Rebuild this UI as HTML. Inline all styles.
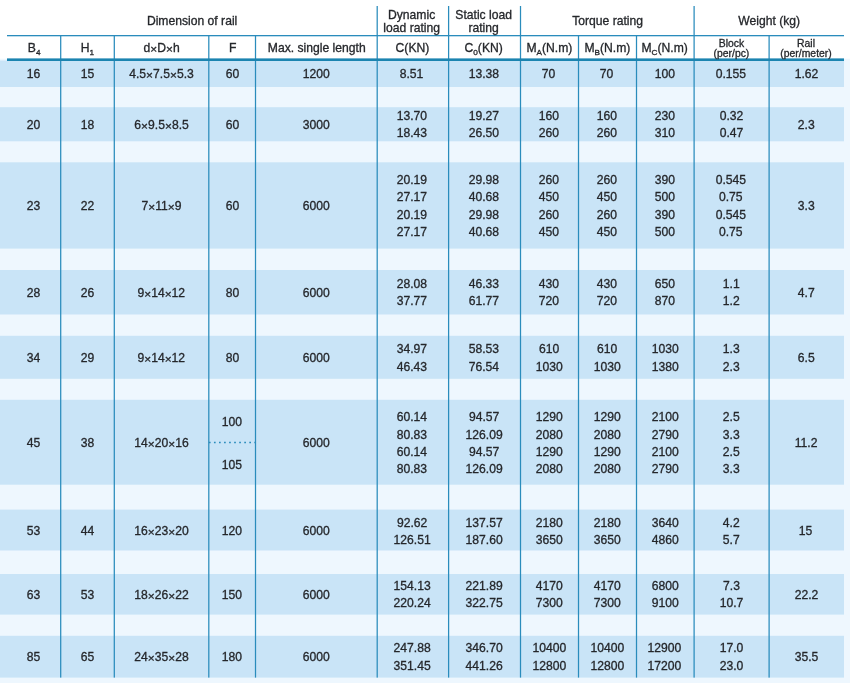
<!DOCTYPE html>
<html><head><meta charset="utf-8"><title>Rail dimensions</title>
<style>
html,body{margin:0;padding:0;}
body{width:850px;height:683px;position:relative;overflow:hidden;background:#fff;font-family:"Liberation Sans",Arial,Helvetica,sans-serif;font-size:11.85px;color:#25272b;-webkit-text-stroke:0.3px #25272b;}
.a{position:absolute;}
svg{left:0;top:0;}
.c{display:flex;align-items:center;justify-content:center;text-align:center;line-height:17.35px;white-space:nowrap;}
.c>span{display:inline-block;transform:scaleX(1.025);}
.sm{font-size:10.15px;line-height:9.1px;}
.h2{line-height:12.8px;}
i{font-style:normal;position:relative;}
b{font-weight:normal;position:relative;top:1px;font-size:11.6px;line-height:0;}
sub{font-size:8px;vertical-align:baseline;position:relative;top:3px;line-height:0;}
</style></head><body>

<svg class="a" width="850" height="683" viewBox="0 0 850 683">
<rect x="0" y="58.7" width="850" height="625" fill="#eef7fe"/>
<rect x="0" y="60.5" width="844" height="26.5" fill="#c9e4f7"/>
<rect x="0" y="107.2" width="844" height="34.1" fill="#c9e4f7"/>
<rect x="0" y="162.3" width="844" height="86.3" fill="#c9e4f7"/>
<rect x="0" y="270.0" width="844" height="44.5" fill="#c9e4f7"/>
<rect x="0" y="335.8" width="844" height="43.0" fill="#c9e4f7"/>
<rect x="0" y="399.8" width="844" height="84.9" fill="#c9e4f7"/>
<rect x="0" y="509.6" width="844" height="40.9" fill="#c9e4f7"/>
<rect x="0" y="574.0" width="844" height="40.6" fill="#c9e4f7"/>
<rect x="0" y="635.8" width="844" height="41.8" fill="#c9e4f7"/>
<rect x="60.08" y="35" width="1.25" height="642.6" fill="#2a8cbc"/>
<rect x="113.67" y="35" width="1.25" height="642.6" fill="#2a8cbc"/>
<rect x="208.18" y="35" width="1.25" height="642.6" fill="#2a8cbc"/>
<rect x="254.88" y="35" width="1.25" height="642.6" fill="#2a8cbc"/>
<rect x="376.57" y="6" width="1.25" height="671.6" fill="#2a8cbc"/>
<rect x="447.98" y="6" width="1.25" height="671.6" fill="#2a8cbc"/>
<rect x="519.88" y="6" width="1.25" height="671.6" fill="#2a8cbc"/>
<rect x="577.88" y="35" width="1.25" height="642.6" fill="#2a8cbc"/>
<rect x="635.88" y="35" width="1.25" height="642.6" fill="#2a8cbc"/>
<rect x="693.48" y="6" width="1.25" height="671.6" fill="#2a8cbc"/>
<rect x="768.48" y="35" width="1.25" height="642.6" fill="#2a8cbc"/>
<rect x="7" y="35.0" width="837" height="1.3" fill="#2a8cbc"/>
<rect x="7" y="58.4" width="837" height="2.6" fill="#1b84b0"/>
<line x1="208.9" y1="442.6" x2="255.5" y2="442.6" stroke="#2a8cbc" stroke-width="1.5" stroke-dasharray="1.7 3.35"/>
</svg>
<div class="a c " style="left:7.0px;top:8.0px;width:370.2px;height:28.0px"><span>Dimension of rail</span></div>
<div class="a c h2" style="left:376.3px;top:8.2px;width:71.4px;height:28.0px"><span>Dynamic<br>load rating</span></div>
<div class="a c h2" style="left:448.1px;top:8.2px;width:71.9px;height:28.0px"><span>Static load<br>rating</span></div>
<div class="a c " style="left:521.0px;top:8.0px;width:173.6px;height:28.0px"><span>Torque rating</span></div>
<div class="a c " style="left:694.6px;top:8.0px;width:149.9px;height:28.0px"><span>Weight (kg)</span></div>
<div class="a c " style="left:7.0px;top:37.0px;width:53.7px;height:23.0px"><span>B<sub>4</sub></span></div>
<div class="a c " style="left:60.7px;top:37.0px;width:53.6px;height:23.0px"><span>H<sub>1</sub></span></div>
<div class="a c " style="left:114.3px;top:37.0px;width:94.5px;height:23.0px"><span>d<b>×</b>D<b>×</b>h</span></div>
<div class="a c " style="left:208.8px;top:37.0px;width:46.7px;height:23.0px"><span>F</span></div>
<div class="a c " style="left:255.5px;top:37.0px;width:121.7px;height:23.0px"><span>Max. single length</span></div>
<div class="a c " style="left:376.3px;top:37.0px;width:71.4px;height:23.0px"><span>C(KN)</span></div>
<div class="a c " style="left:448.1px;top:37.0px;width:71.9px;height:23.0px"><span>C<sub>0</sub>(KN)</span></div>
<div class="a c " style="left:520.0px;top:37.0px;width:58.0px;height:23.0px"><span>M<sub>A</sub>(N.m)</span></div>
<div class="a c " style="left:578.0px;top:37.0px;width:58.0px;height:23.0px"><span>M<sub>B</sub>(N.m)</span></div>
<div class="a c " style="left:636.0px;top:37.0px;width:57.6px;height:23.0px"><span>M<sub>C</sub>(N.m)</span></div>
<div class="a c sm" style="left:693.6px;top:37.0px;width:75.0px;height:23.0px"><span>Block<br>(per/pc)</span></div>
<div class="a c sm" style="left:768.6px;top:37.0px;width:74.9px;height:23.0px"><span>Rail<br>(per/meter)</span></div>
<div class="a c " style="left:7.0px;top:61.5px;width:53.7px;height:26.5px"><span>16</span></div>
<div class="a c " style="left:60.7px;top:61.5px;width:53.6px;height:26.5px"><span>15</span></div>
<div class="a c " style="left:114.3px;top:61.5px;width:94.5px;height:26.5px"><span>4.5<b>×</b>7.5<b>×</b>5.3</span></div>
<div class="a c " style="left:208.8px;top:61.5px;width:46.7px;height:26.5px"><span>60</span></div>
<div class="a c " style="left:255.5px;top:61.5px;width:121.7px;height:26.5px"><span>1200</span></div>
<div class="a c " style="left:376.3px;top:61.5px;width:71.4px;height:26.5px"><span>8.51</span></div>
<div class="a c " style="left:448.1px;top:61.5px;width:71.9px;height:26.5px"><span>13.38</span></div>
<div class="a c " style="left:520.0px;top:61.5px;width:58.0px;height:26.5px"><span>70</span></div>
<div class="a c " style="left:578.0px;top:61.5px;width:58.0px;height:26.5px"><span>70</span></div>
<div class="a c " style="left:636.0px;top:61.5px;width:57.6px;height:26.5px"><span>100</span></div>
<div class="a c " style="left:693.6px;top:61.5px;width:75.0px;height:26.5px"><span>0.155</span></div>
<div class="a c " style="left:768.6px;top:61.5px;width:74.9px;height:26.5px"><span>1.62</span></div>
<div class="a c " style="left:7.0px;top:108.2px;width:53.7px;height:34.1px"><span>20</span></div>
<div class="a c " style="left:60.7px;top:108.2px;width:53.6px;height:34.1px"><span>18</span></div>
<div class="a c " style="left:114.3px;top:108.2px;width:94.5px;height:34.1px"><span>6<b>×</b>9.5<b>×</b>8.5</span></div>
<div class="a c " style="left:208.8px;top:108.2px;width:46.7px;height:34.1px"><span>60</span></div>
<div class="a c " style="left:255.5px;top:108.2px;width:121.7px;height:34.1px"><span>3000</span></div>
<div class="a c " style="left:376.3px;top:108.2px;width:71.4px;height:34.1px"><span>13.70<br>18.43</span></div>
<div class="a c " style="left:448.1px;top:108.2px;width:71.9px;height:34.1px"><span>19.27<br>26.50</span></div>
<div class="a c " style="left:520.0px;top:108.2px;width:58.0px;height:34.1px"><span>160<br>260</span></div>
<div class="a c " style="left:578.0px;top:108.2px;width:58.0px;height:34.1px"><span>160<br>260</span></div>
<div class="a c " style="left:636.0px;top:108.2px;width:57.6px;height:34.1px"><span>230<br>310</span></div>
<div class="a c " style="left:693.6px;top:108.2px;width:75.0px;height:34.1px"><span>0.32<br>0.47</span></div>
<div class="a c " style="left:768.6px;top:108.2px;width:74.9px;height:34.1px"><span>2.3</span></div>
<div class="a c " style="left:7.0px;top:163.3px;width:53.7px;height:86.3px"><span>23</span></div>
<div class="a c " style="left:60.7px;top:163.3px;width:53.6px;height:86.3px"><span>22</span></div>
<div class="a c " style="left:114.3px;top:163.3px;width:94.5px;height:86.3px"><span>7<b>×</b>11<b>×</b>9</span></div>
<div class="a c " style="left:208.8px;top:163.3px;width:46.7px;height:86.3px"><span>60</span></div>
<div class="a c " style="left:255.5px;top:163.3px;width:121.7px;height:86.3px"><span>6000</span></div>
<div class="a c " style="left:376.3px;top:163.3px;width:71.4px;height:86.3px"><span>20.19<br>27.17<br><i style="top:1px">20.19</i><br>27.17</span></div>
<div class="a c " style="left:448.1px;top:163.3px;width:71.9px;height:86.3px"><span>29.98<br>40.68<br><i style="top:1px">29.98</i><br>40.68</span></div>
<div class="a c " style="left:520.0px;top:163.3px;width:58.0px;height:86.3px"><span>260<br>450<br><i style="top:1px">260</i><br>450</span></div>
<div class="a c " style="left:578.0px;top:163.3px;width:58.0px;height:86.3px"><span>260<br>450<br><i style="top:1px">260</i><br>450</span></div>
<div class="a c " style="left:636.0px;top:163.3px;width:57.6px;height:86.3px"><span>390<br>500<br><i style="top:1px">390</i><br>500</span></div>
<div class="a c " style="left:693.6px;top:163.3px;width:75.0px;height:86.3px"><span>0.545<br>0.75<br><i style="top:1px">0.545</i><br>0.75</span></div>
<div class="a c " style="left:768.6px;top:163.3px;width:74.9px;height:86.3px"><span>3.3</span></div>
<div class="a c " style="left:7.0px;top:271.0px;width:53.7px;height:44.5px"><span>28</span></div>
<div class="a c " style="left:60.7px;top:271.0px;width:53.6px;height:44.5px"><span>26</span></div>
<div class="a c " style="left:114.3px;top:271.0px;width:94.5px;height:44.5px"><span>9<b>×</b>14<b>×</b>12</span></div>
<div class="a c " style="left:208.8px;top:271.0px;width:46.7px;height:44.5px"><span>80</span></div>
<div class="a c " style="left:255.5px;top:271.0px;width:121.7px;height:44.5px"><span>6000</span></div>
<div class="a c " style="left:376.3px;top:271.0px;width:71.4px;height:44.5px"><span>28.08<br>37.77</span></div>
<div class="a c " style="left:448.1px;top:271.0px;width:71.9px;height:44.5px"><span>46.33<br>61.77</span></div>
<div class="a c " style="left:520.0px;top:271.0px;width:58.0px;height:44.5px"><span>430<br>720</span></div>
<div class="a c " style="left:578.0px;top:271.0px;width:58.0px;height:44.5px"><span>430<br>720</span></div>
<div class="a c " style="left:636.0px;top:271.0px;width:57.6px;height:44.5px"><span>650<br>870</span></div>
<div class="a c " style="left:693.6px;top:271.0px;width:75.0px;height:44.5px"><span>1.1<br>1.2</span></div>
<div class="a c " style="left:768.6px;top:271.0px;width:74.9px;height:44.5px"><span>4.7</span></div>
<div class="a c " style="left:7.0px;top:336.8px;width:53.7px;height:43.0px"><span>34</span></div>
<div class="a c " style="left:60.7px;top:336.8px;width:53.6px;height:43.0px"><span>29</span></div>
<div class="a c " style="left:114.3px;top:336.8px;width:94.5px;height:43.0px"><span>9<b>×</b>14<b>×</b>12</span></div>
<div class="a c " style="left:208.8px;top:336.8px;width:46.7px;height:43.0px"><span>80</span></div>
<div class="a c " style="left:255.5px;top:336.8px;width:121.7px;height:43.0px"><span>6000</span></div>
<div class="a c " style="left:376.3px;top:336.8px;width:71.4px;height:43.0px"><span>34.97<br><i style="top:1px">46.43</i></span></div>
<div class="a c " style="left:448.1px;top:336.8px;width:71.9px;height:43.0px"><span>58.53<br><i style="top:1px">76.54</i></span></div>
<div class="a c " style="left:520.0px;top:336.8px;width:58.0px;height:43.0px"><span>610<br><i style="top:1px">1030</i></span></div>
<div class="a c " style="left:578.0px;top:336.8px;width:58.0px;height:43.0px"><span>610<br><i style="top:1px">1030</i></span></div>
<div class="a c " style="left:636.0px;top:336.8px;width:57.6px;height:43.0px"><span>1030<br><i style="top:1px">1380</i></span></div>
<div class="a c " style="left:693.6px;top:336.8px;width:75.0px;height:43.0px"><span>1.3<br><i style="top:1px">2.3</i></span></div>
<div class="a c " style="left:768.6px;top:336.8px;width:74.9px;height:43.0px"><span>6.5</span></div>
<div class="a c " style="left:7.0px;top:400.8px;width:53.7px;height:84.9px"><span>45</span></div>
<div class="a c " style="left:60.7px;top:400.8px;width:53.6px;height:84.9px"><span>38</span></div>
<div class="a c " style="left:114.3px;top:400.8px;width:94.5px;height:84.9px"><span>14<b>×</b>20<b>×</b>16</span></div>
<div class="a c " style="left:208.8px;top:401.8px;width:46.7px;height:41.4px"><span>100</span></div>
<div class="a c " style="left:208.8px;top:445.2px;width:46.7px;height:41.4px"><span>105</span></div>
<div class="a c " style="left:255.5px;top:400.8px;width:121.7px;height:84.9px"><span>6000</span></div>
<div class="a c " style="left:376.3px;top:400.8px;width:71.4px;height:84.9px"><span>60.14<br><i style="top:1px">80.83</i><br><i style="top:1px">60.14</i><br>80.83</span></div>
<div class="a c " style="left:448.1px;top:400.8px;width:71.9px;height:84.9px"><span>94.57<br><i style="top:1px">126.09</i><br><i style="top:1px">94.57</i><br>126.09</span></div>
<div class="a c " style="left:520.0px;top:400.8px;width:58.0px;height:84.9px"><span>1290<br><i style="top:1px">2080</i><br><i style="top:1px">1290</i><br>2080</span></div>
<div class="a c " style="left:578.0px;top:400.8px;width:58.0px;height:84.9px"><span>1290<br><i style="top:1px">2080</i><br><i style="top:1px">1290</i><br>2080</span></div>
<div class="a c " style="left:636.0px;top:400.8px;width:57.6px;height:84.9px"><span>2100<br><i style="top:1px">2790</i><br><i style="top:1px">2100</i><br>2790</span></div>
<div class="a c " style="left:693.6px;top:400.8px;width:75.0px;height:84.9px"><span>2.5<br><i style="top:1px">3.3</i><br><i style="top:1px">2.5</i><br>3.3</span></div>
<div class="a c " style="left:768.6px;top:400.8px;width:74.9px;height:84.9px"><span>11.2</span></div>
<div class="a c " style="left:7.0px;top:511.6px;width:53.7px;height:40.9px"><span>53</span></div>
<div class="a c " style="left:60.7px;top:511.6px;width:53.6px;height:40.9px"><span>44</span></div>
<div class="a c " style="left:114.3px;top:511.6px;width:94.5px;height:40.9px"><span>16<b>×</b>23<b>×</b>20</span></div>
<div class="a c " style="left:208.8px;top:511.6px;width:46.7px;height:40.9px"><span>120</span></div>
<div class="a c " style="left:255.5px;top:511.6px;width:121.7px;height:40.9px"><span>6000</span></div>
<div class="a c " style="left:376.3px;top:511.6px;width:71.4px;height:40.9px"><span>92.62<br>126.51</span></div>
<div class="a c " style="left:448.1px;top:511.6px;width:71.9px;height:40.9px"><span>137.57<br>187.60</span></div>
<div class="a c " style="left:520.0px;top:511.6px;width:58.0px;height:40.9px"><span>2180<br>3650</span></div>
<div class="a c " style="left:578.0px;top:511.6px;width:58.0px;height:40.9px"><span>2180<br>3650</span></div>
<div class="a c " style="left:636.0px;top:511.6px;width:57.6px;height:40.9px"><span>3640<br>4860</span></div>
<div class="a c " style="left:693.6px;top:511.6px;width:75.0px;height:40.9px"><span>4.2<br>5.7</span></div>
<div class="a c " style="left:768.6px;top:511.6px;width:74.9px;height:40.9px"><span>15</span></div>
<div class="a c " style="left:7.0px;top:575.0px;width:53.7px;height:40.6px"><span>63</span></div>
<div class="a c " style="left:60.7px;top:575.0px;width:53.6px;height:40.6px"><span>53</span></div>
<div class="a c " style="left:114.3px;top:575.0px;width:94.5px;height:40.6px"><span>18<b>×</b>26<b>×</b>22</span></div>
<div class="a c " style="left:208.8px;top:575.0px;width:46.7px;height:40.6px"><span>150</span></div>
<div class="a c " style="left:255.5px;top:575.0px;width:121.7px;height:40.6px"><span>6000</span></div>
<div class="a c " style="left:376.3px;top:575.0px;width:71.4px;height:40.6px"><span>154.13<br>220.24</span></div>
<div class="a c " style="left:448.1px;top:575.0px;width:71.9px;height:40.6px"><span>221.89<br>322.75</span></div>
<div class="a c " style="left:520.0px;top:575.0px;width:58.0px;height:40.6px"><span>4170<br>7300</span></div>
<div class="a c " style="left:578.0px;top:575.0px;width:58.0px;height:40.6px"><span>4170<br>7300</span></div>
<div class="a c " style="left:636.0px;top:575.0px;width:57.6px;height:40.6px"><span>6800<br>9100</span></div>
<div class="a c " style="left:693.6px;top:575.0px;width:75.0px;height:40.6px"><span>7.3<br>10.7</span></div>
<div class="a c " style="left:768.6px;top:575.0px;width:74.9px;height:40.6px"><span>22.2</span></div>
<div class="a c " style="left:7.0px;top:636.8px;width:53.7px;height:41.8px"><span>85</span></div>
<div class="a c " style="left:60.7px;top:636.8px;width:53.6px;height:41.8px"><span>65</span></div>
<div class="a c " style="left:114.3px;top:636.8px;width:94.5px;height:41.8px"><span>24<b>×</b>35<b>×</b>28</span></div>
<div class="a c " style="left:208.8px;top:636.8px;width:46.7px;height:41.8px"><span>180</span></div>
<div class="a c " style="left:255.5px;top:636.8px;width:121.7px;height:41.8px"><span>6000</span></div>
<div class="a c " style="left:376.3px;top:636.8px;width:71.4px;height:41.8px"><span>247.88<br>351.45</span></div>
<div class="a c " style="left:448.1px;top:636.8px;width:71.9px;height:41.8px"><span>346.70<br>441.26</span></div>
<div class="a c " style="left:520.0px;top:636.8px;width:58.0px;height:41.8px"><span>10400<br>12800</span></div>
<div class="a c " style="left:578.0px;top:636.8px;width:58.0px;height:41.8px"><span>10400<br>12800</span></div>
<div class="a c " style="left:636.0px;top:636.8px;width:57.6px;height:41.8px"><span>12900<br>17200</span></div>
<div class="a c " style="left:693.6px;top:636.8px;width:75.0px;height:41.8px"><span>17.0<br>23.0</span></div>
<div class="a c " style="left:768.6px;top:636.8px;width:74.9px;height:41.8px"><span>35.5</span></div>
</body></html>
